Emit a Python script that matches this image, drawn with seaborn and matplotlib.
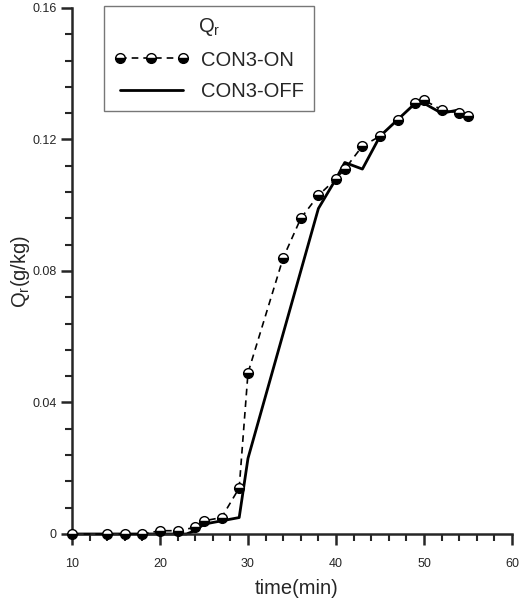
import numpy as np
import pandas as pd
import matplotlib
matplotlib.use("Agg")
import matplotlib.pyplot as plt
from matplotlib.ticker import MultipleLocator, FuncFormatter
import seaborn as sns

# CON3-ON (dashed, markers)
on_time = [10, 14, 16, 18, 20, 22, 24, 25, 27, 29, 30, 34, 36, 38, 40, 41, 43, 45, 47, 49, 50, 52, 54, 55]
on_qr = [0.0, 0.0, 0.0, 0.0, 0.001, 0.001, 0.002, 0.004, 0.005, 0.014, 0.049, 0.084, 0.096, 0.103,
         0.108, 0.111, 0.118, 0.121, 0.126, 0.131, 0.132, 0.129, 0.128, 0.127]

# CON3-OFF (solid)
off_time = [10, 14, 16, 18, 20, 22, 23, 24, 25, 27, 29, 30, 38, 40, 41, 43, 45, 47, 49, 50, 52, 54, 55]
off_qr = [0.0, 0.0, 0.0, 0.0, 0.0, 0.0, 0.0, 0.001, 0.003, 0.004, 0.005, 0.023, 0.099, 0.108,
          0.113, 0.111, 0.121, 0.126, 0.131, 0.131, 0.128, 0.129, 0.127]

sns.set_style("ticks")
plt.rcParams["font.family"] = ["Liberation Sans", "DejaVu Sans"]
plt.rcParams["mathtext.default"] = "regular"

df_on = pd.DataFrame({"time": on_time, "qr": on_qr})
df_off = pd.DataFrame({"time": off_time, "qr": off_qr})

fig = plt.figure(figsize=(5.19, 6.04), dpi=100)
ax = fig.add_axes([0.1387, 0.1159, 0.8478, 0.8709])

sns.lineplot(data=df_on, x="time", y="qr", ax=ax, color="black", linewidth=1.2,
             linestyle=(0, (4, 3)), marker="o", markersize=7, fillstyle="bottom",
             markerfacecolor="black", markerfacecoloralt="white", markeredgecolor="black",
             markeredgewidth=1.0, label="CON3-ON", clip_on=False, zorder=3)
sns.lineplot(data=df_off, x="time", y="qr", ax=ax, color="black", linewidth=2.0,
             label="CON3-OFF", clip_on=False, zorder=2)

ax.set_xlim(10, 60)
ax.set_ylim(0, 0.16)
ax.xaxis.set_major_locator(MultipleLocator(10))
ax.xaxis.set_minor_locator(MultipleLocator(2))
ax.yaxis.set_major_locator(MultipleLocator(0.04))
ax.yaxis.set_minor_locator(MultipleLocator(0.008))
ax.yaxis.set_major_formatter(FuncFormatter(lambda v, p: "0" if abs(v) < 1e-9 else f"{v:g}"))

sns.despine(ax=ax)
for s in ["left", "bottom"]:
    ax.spines[s].set_linewidth(1.8)
ax.tick_params(which="major", length=8, width=1.8, labelsize=9, direction="out")
ax.tick_params(axis="x", which="major", pad=9)
ax.tick_params(axis="y", which="major", pad=3)
ax.tick_params(which="minor", length=5, width=1.5, direction="out")

ax.set_xlabel("time(min)", fontsize=14.5)
ax.set_ylabel("Q$_r$(g/kg)", fontsize=14.5)
ax.xaxis.set_label_coords(0.51, -0.085)
ax.yaxis.set_label_coords(-0.092, 0.5)

leg = ax.legend(title="Q$_r$", loc="upper left", bbox_to_anchor=(0.072, 1.003), fontsize=14.5,
                title_fontsize=14.5, frameon=True, fancybox=False, edgecolor="#555555",
                handlelength=3.75, numpoints=3, borderpad=0.5, labelspacing=0.6,
                handletextpad=0.6, borderaxespad=0)
leg.get_frame().set_linewidth(1.0)

fig.savefig("out.png", dpi=100)
